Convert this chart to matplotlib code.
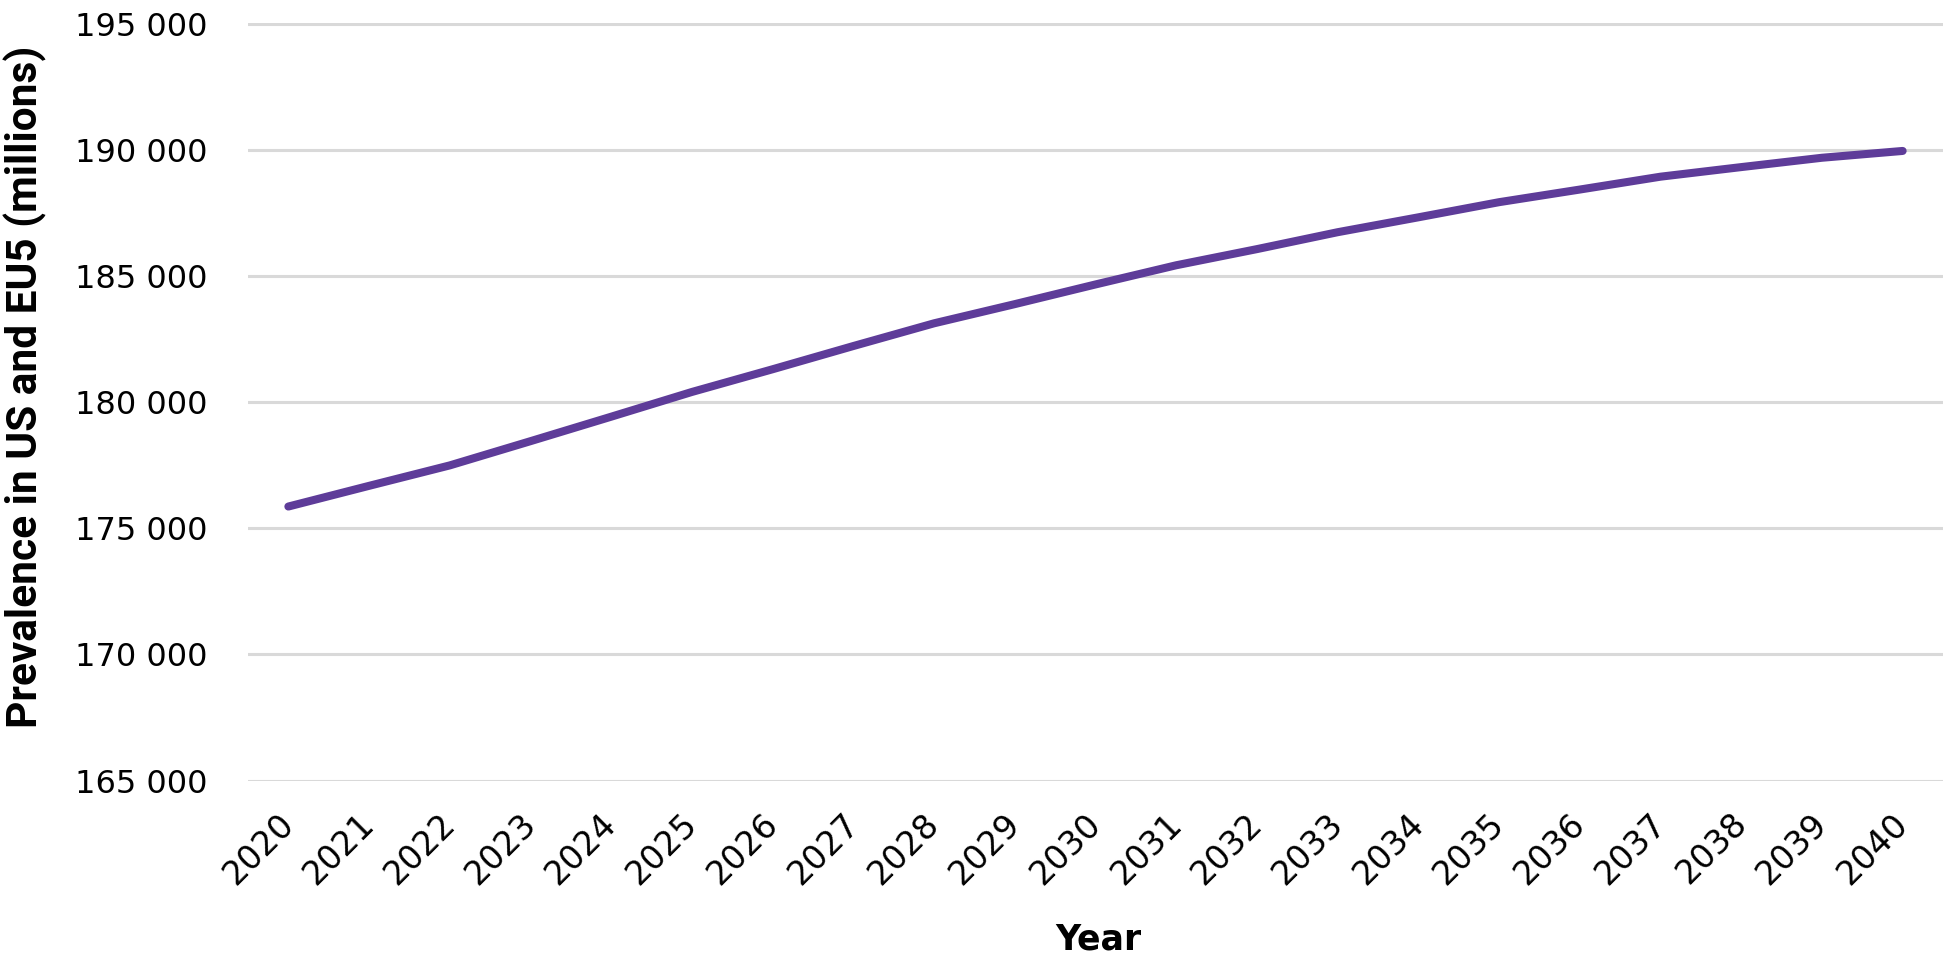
import matplotlib
matplotlib.use("Agg")
import matplotlib.pyplot as plt
from matplotlib.ticker import FuncFormatter, FixedLocator
from matplotlib.transforms import ScaledTranslation

years = [str(y) for y in range(2020, 2041)]
prevalence = [175860, 176680, 177490, 178450, 179420, 180400, 181300, 182220,
              183120, 183880, 184660, 185420, 186060, 186730, 187320, 187920,
              188420, 188930, 189310, 189680, 189950]
y_ticks = [165000, 170000, 175000, 180000, 185000, 190000, 195000]

line_color = "#5E3C99"
grid_color = "#D9D9D9"

fig = plt.figure(figsize=(19.43, 9.65), dpi=100)
ax = fig.add_axes([248 / 1943, 1 - 780.6 / 965, 1 - 248 / 1943, (780.6 - 23.5) / 965])

x = list(range(len(years)))
ax.plot(x, prevalence, color=line_color, lw=5.8, solid_capstyle="round",
        solid_joinstyle="round", zorder=3)

ax.set_xlim(-0.5, len(years) - 0.5)
ax.set_ylim(y_ticks[0], y_ticks[-1])
ax.yaxis.set_major_locator(FixedLocator(y_ticks))
ax.yaxis.set_major_formatter(FuncFormatter(lambda v, p: f"{v:,.0f}".replace(",", " ")))
ax.set_xticks(x)
ax.set_xticklabels(years, rotation=45, ha="right", rotation_mode="default")

ax.grid(axis="y", color=grid_color, lw=2.2, zorder=0)
ax.grid(axis="x", visible=False)
for s in ax.spines.values():
    s.set_visible(False)
ax.tick_params(axis="both", length=0, colors="black")
ax.tick_params(axis="y", pad=29, labelsize=23)
ax.tick_params(axis="x", pad=19, labelsize=24)
off = ScaledTranslation(12 / 100, 0, fig.dpi_scale_trans)
for lab in ax.get_yticklabels() + ax.get_xticklabels():
    lab.set_family("DejaVu Sans")
for lab in ax.get_xticklabels():
    lab.set_transform(lab.get_transform() + off)

fig.text(25 / 1943, 1 - 387 / 965, "Prevalence in US and EU5 (millions)",
         rotation=90, ha="center", va="center", fontsize=30.5, fontweight="bold",
         family=["Roboto", "DejaVu Sans"])
fig.text(1098 / 1943, 1 - 940 / 965, "Year", ha="center", va="center",
         fontsize=25, fontweight="bold", family="DejaVu Sans")

fig.savefig("out.png", dpi=100, facecolor="white")
